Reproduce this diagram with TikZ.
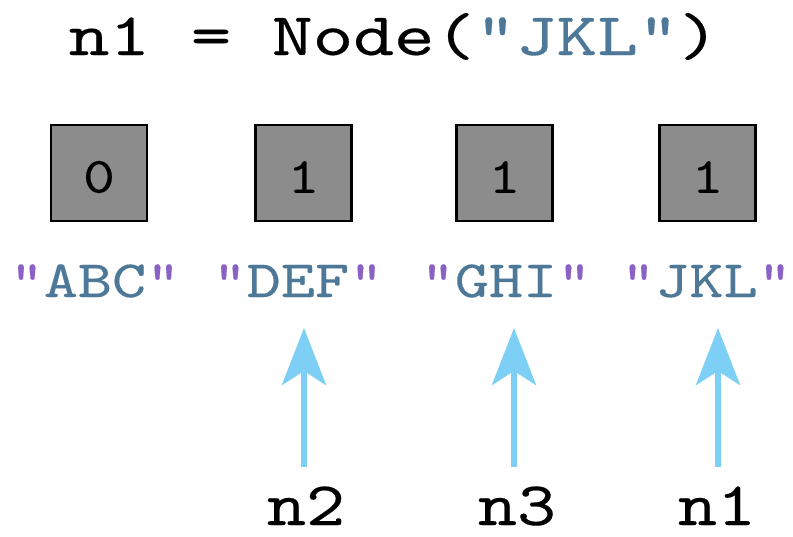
\documentclass[tikz,border=0pt]{standalone}
\usepackage{fontspec}
\usepackage{graphicx}
\usetikzlibrary{arrows.meta}
\newfontfamily\courfont[FakeBold=0.25]{lmmono10-regular.otf}
\definecolor{strblue}{HTML}{4E7898}
\definecolor{qpurple}{HTML}{8A62C6}
\definecolor{arrblue}{HTML}{7ECFF5}
\definecolor{boxgray}{HTML}{8C8C8C}
\newcommand\strtext[1]{\scalebox{1.24}[1]{\fontsize{52.4}{52}\selectfont\courfont\textcolor{qpurple}{"}\textcolor{strblue}{#1}\textcolor{qpurple}{"}}}
\newcommand\digtext[1]{\scalebox{1.19}[1]{\fontsize{51}{51}\selectfont\courfont #1}}
\newcommand\labtext[1]{\scalebox{1.2}[1]{\fontsize{62}{62}\selectfont\courfont #1}}
\begin{document}
\begin{tikzpicture}[x=1pt,y=-1pt,
  cellbox/.style={draw=black, line width=2.8pt, fill=boxgray, minimum width=96pt, minimum height=96pt, inner sep=0pt},
  txt/.style={inner sep=0pt, anchor=base},
  digit/.style={inner sep=0pt},
  ptr/.style={draw=arrblue, line width=6pt, -{Stealth[length=57pt, width=44pt, inset=14pt]}}]
\useasboundingbox (0,0) rectangle (793,536);
% title
\node[txt] (title) at (394,55) {\scalebox{1.28}[1]{\fontsize{60.5}{60}\selectfont\courfont n1 = Node(\textcolor{strblue}{"JKL"})}};
% boxes
\node[cellbox] (c1) at (99,173) {};
\node[cellbox] (c2) at (303.5,173) {};
\node[cellbox] (c3) at (504.5,173) {};
\node[cellbox] (c4) at (707.5,173) {};
\node[digit] (d1) at (99,177) {\digtext{0}};
\node[digit] (d2) at (303.5,177) {\digtext{1}};
\node[digit] (d3) at (504.5,177) {\digtext{1}};
\node[digit] (d4) at (707.5,177) {\digtext{1}};
% strings
\node[txt] (s1) at (95,297) {\strtext{ABC}};
\node[txt] (s2) at (298,297) {\strtext{DEF}};
\node[txt] (s3) at (506,297) {\strtext{GHI}};
\node[txt] (s4) at (706.5,297) {\strtext{JKL}};
% labels
\node[txt] (l2) at (306,525) {\labtext{n2}};
\node[txt] (l3) at (517,525) {\labtext{n3}};
\node[txt] (l1) at (717,525) {\labtext{n1}};
% arrows
\coordinate (b2) at (304,467); \coordinate (t2) at (304,328);
\coordinate (b3) at (514,467); \coordinate (t3) at (514,328);
\coordinate (b1) at (718,467); \coordinate (t1) at (718,328);
\draw[ptr] (b2) -- (t2);
\draw[ptr] (b3) -- (t3);
\draw[ptr] (b1) -- (t1);
\end{tikzpicture}
\end{document}
